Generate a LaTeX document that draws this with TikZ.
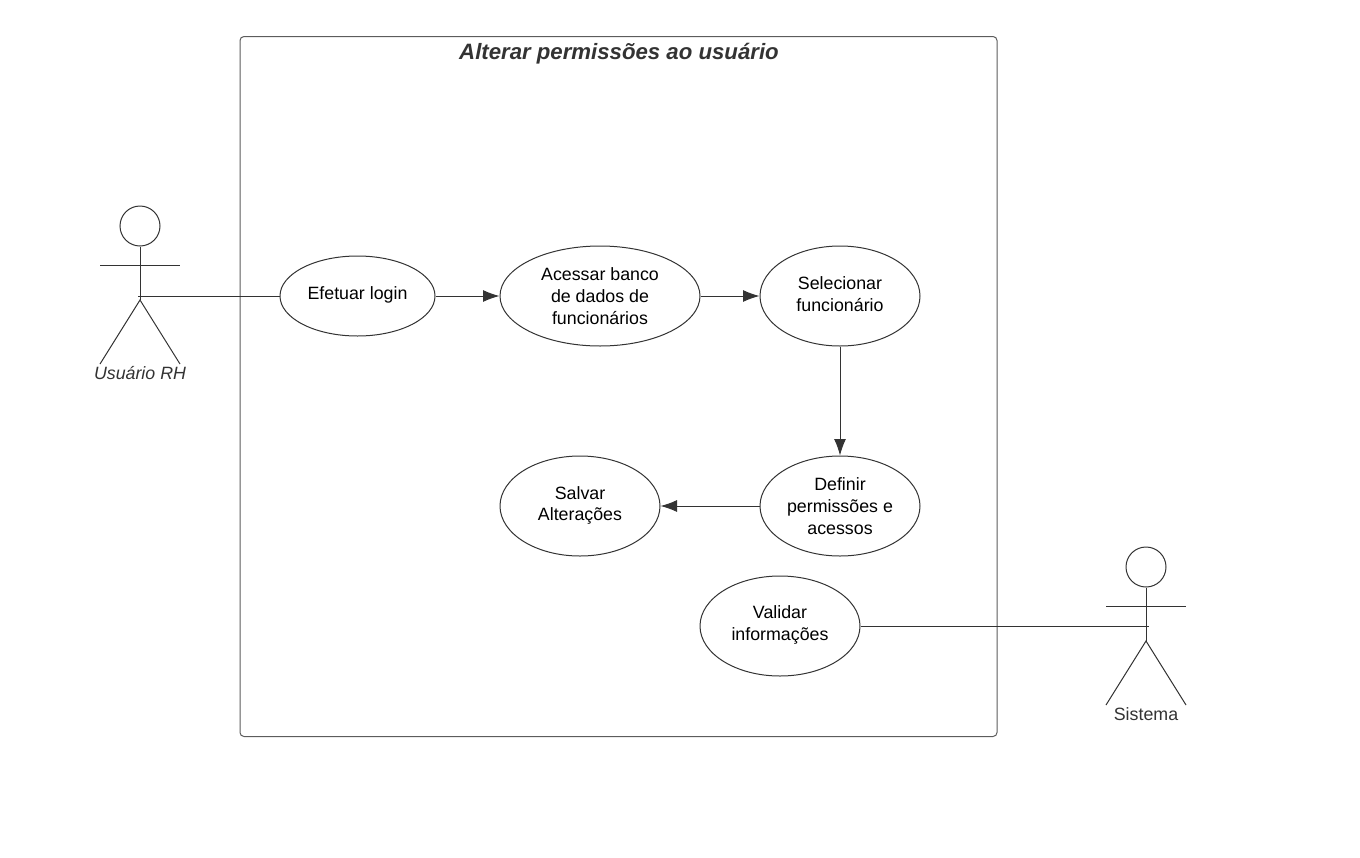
\documentclass[tikz,border=0pt]{standalone}
\usepackage{fontspec}
\setmainfont{Liberation Sans}
\usetikzlibrary{shapes.geometric,arrows.meta}
\definecolor{ink}{HTML}{333333}
\tikzset{
  uc/.style={draw=ink,line width=1pt,ellipse,inner sep=0pt,align=center,text=black,font=\fontsize{17.8}{21.8}\selectfont},
  uctext/.style={inner sep=0pt,align=center,text=black,font=\fontsize{17.8}{21.8}\selectfont},
  flow/.style={draw=ink,line width=1pt,-{Latex[length=16.5pt,width=12pt,sharp]}},
  link/.style={draw=ink,line width=1pt},
  limb/.style={draw=ink,line width=1pt},
  lab/.style={text=ink,inner sep=0pt,font=\fontsize{17.8}{20}\selectfont},
}
\begin{document}
\begin{tikzpicture}[x=1pt,y=-1pt]
\useasboundingbox (0,0) rectangle (1360,857);
\node[draw=ink!80,line width=1pt,rounded corners=4pt,minimum width=757pt,minimum height=700pt,inner sep=0pt] (frame) at (618.5,386.5) {};
\node[text=ink,inner sep=0pt,font=\fontsize{22.2}{26}\selectfont\bfseries\itshape] (title) at (619,53.5) {Alterar permissões ao usuário};

\node[uc,minimum width=155pt,minimum height=80pt] (login) at (357.5,296) {};
\node[uctext] (logintxt) at (357.5,295) {Efetuar login};
\node[uc,minimum width=200pt,minimum height=100pt] (banco) at (600,296) {Acessar banco\\de dados de\\funcionários};
\node[uc,minimum width=160pt,minimum height=100pt] (sel) at (840,296) {};
\node[uctext] (seltxt) at (840,294) {Selecionar\\funcionário};
\node[uc,minimum width=160pt,minimum height=100pt] (def) at (840,506) {Definir\\permissões e\\acessos};
\node[uc,minimum width=160pt,minimum height=100pt] (salvar) at (580,506) {};
\node[uctext] (salvartxt) at (580,505.5) {Salvar\\Alterações};
\node[uc,minimum width=160pt,minimum height=100pt] (valid) at (780,626) {};
\node[uctext] (validtxt) at (780,625) {Validar\\informações};

% actor Usuario RH
\node[draw=ink,line width=1pt,circle,minimum size=40pt,inner sep=0pt] (headA) at (140,226) {};
\coordinate (hipA) at (140,300);
\coordinate (armAl) at (100,265);
\coordinate (armAr) at (180,265);
\coordinate (footAl) at (100,364);
\coordinate (footAr) at (180,364);
\coordinate (handA) at (138,296);
\draw[limb] (headA) -- (hipA);
\draw[limb] (armAl) -- (armAr);
\draw[limb] (footAl) -- (hipA) -- (footAr);
\node[lab,font=\fontsize{17.8}{20}\selectfont\itshape] (nameA) at (140,373) {Usuário RH};

% actor Sistema
\node[draw=ink,line width=1pt,circle,minimum size=40pt,inner sep=0pt] (headB) at (1146,567) {};
\coordinate (hipB) at (1146,641);
\coordinate (armBl) at (1106,606);
\coordinate (armBr) at (1186,606);
\coordinate (footBl) at (1106,705);
\coordinate (footBr) at (1186,705);
\coordinate (handB) at (1149,626);
\draw[limb] (headB) -- (hipB);
\draw[limb] (armBl) -- (armBr);
\draw[limb] (footBl) -- (hipB) -- (footBr);
\node[lab] (nameB) at (1146,714) {Sistema};

\draw[link] (handA) -- (login.west);
\draw[flow] (login.east) -- (banco.west);
\draw[flow] (banco.east) -- (sel.west);
\draw[flow] (sel.south) -- (def.north);
\draw[flow] (def.west) -- (salvar.east);
\draw[link] (valid.east) -- (handB);
\end{tikzpicture}
\end{document}
